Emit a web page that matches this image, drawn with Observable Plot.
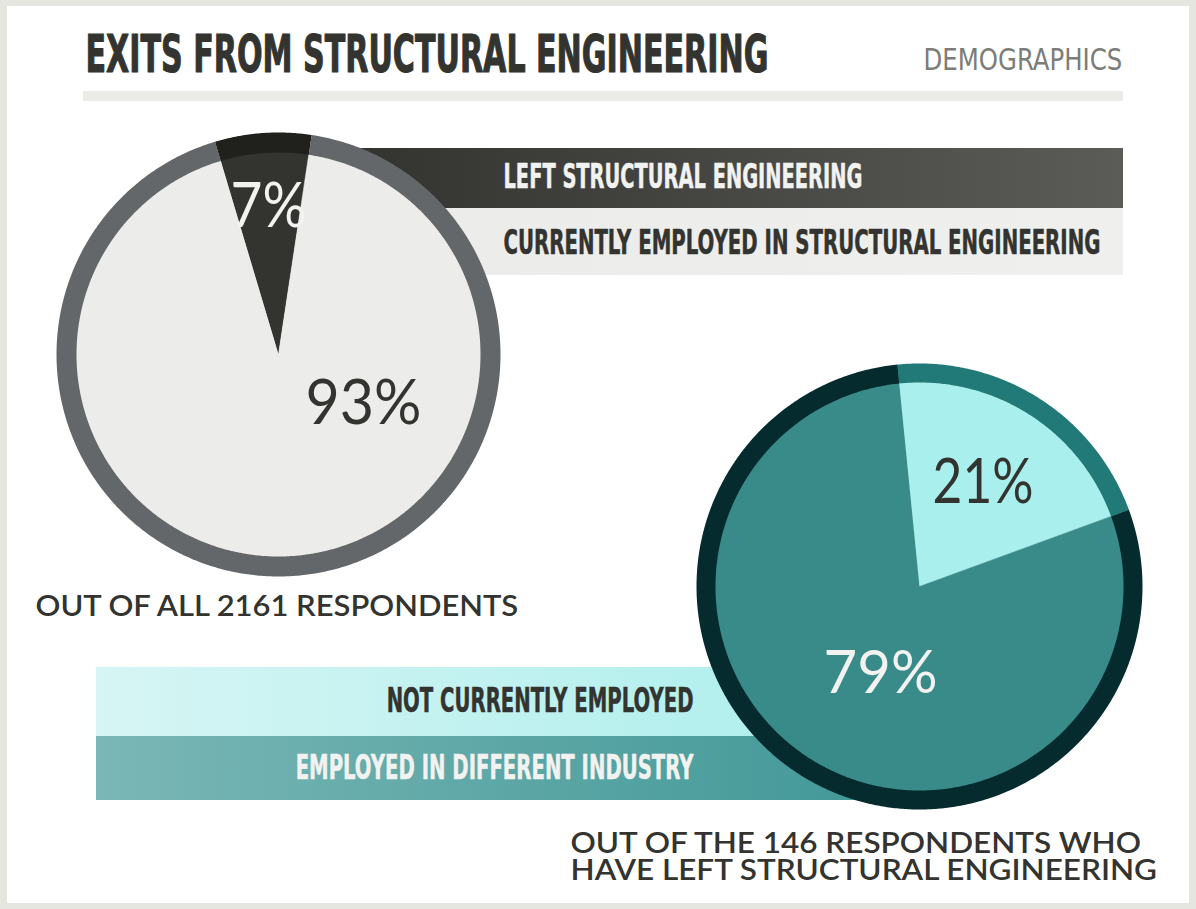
<!DOCTYPE html>
<html><head><meta charset="utf-8">
<script src="https://cdn.jsdelivr.net/npm/d3@7"></script>
<script src="https://cdn.jsdelivr.net/npm/@observablehq/plot@0.6"></script>
<style>
html,body{margin:0;padding:0;background:#fff}
#wrap{position:relative;width:1196px;height:909px;background:#e6e6e1;overflow:hidden}
#inner{position:absolute;left:7px;top:6px;width:1182px;height:897px;background:#fff}
#chart{position:absolute;left:0;top:0}
</style></head><body>
<div id="wrap"><div id="inner"></div><div id="chart"></div></div>
<script>
// ---------------- data ----------------
const titleText = "EXITS FROM STRUCTURAL ENGINEERING";
const sectionText = "DEMOGRAPHICS";
const allCategories = ["LEFT STRUCTURAL ENGINEERING", "CURRENTLY EMPLOYED IN STRUCTURAL ENGINEERING"];
const allValues = [7, 93];
const allRespondents = 2161;
const leftCategories = ["NOT CURRENTLY EMPLOYED", "EMPLOYED IN DIFFERENT INDUSTRY"];
const leftValues = [21, 79];
const leftRespondents = 146;

// ---------------- styling / layout ----------------
const W = 1196, H = 909;
const dark = "#33332f", light = "#f2f2f0";
const condensed = "'Liberation Sans Narrow', 'DejaVu Sans Condensed', Roboto, sans-serif";
const geo = "Lato, 'Open Sans', sans-serif";
const pie1 = {cx: 278, cy: 354, r: 222, ring: 20, start: -16.6,
  fill: ["#33332f", "#ececea"], ringFill: ["#20201c", "#63676a"]};
const pie2 = {cx: 919, cy: 586, r: 223, ring: 19, start: -5.7,
  fill: ["#a9efed", "#388b89"], ringFill: ["#227a78", "#062b2f"]};

const rad = Math.PI / 180;
function wedge(p, a0, a1, r) {
  const n = Math.max(2, Math.ceil((a1 - a0) / rad * 2));
  const pts = [{x: p.cx, y: p.cy}];
  for (let i = 0; i <= n; i++) {
    const a = a0 + (a1 - a0) * i / n;
    pts.push({x: p.cx + r * Math.sin(a), y: p.cy - r * Math.cos(a)});
  }
  return pts;
}
function annulus(p, a0, a1) {
  const n = Math.max(2, Math.ceil((a1 - a0) / rad * 2));
  const pts = [];
  for (let i = 0; i <= n; i++) {
    const a = a0 + (a1 - a0) * i / n;
    pts.push({x: p.cx + p.r * Math.sin(a), y: p.cy - p.r * Math.cos(a)});
  }
  for (let i = n; i >= 0; i--) {
    const a = a0 + (a1 - a0) * i / n;
    const r = p.r - p.ring;
    pts.push({x: p.cx + r * Math.sin(a), y: p.cy - r * Math.cos(a)});
  }
  return pts;
}
function pieMarks(values, p) {
  const arcs = d3.pie().sort(null).startAngle(p.start * rad).endAngle(p.start * rad + 2 * Math.PI)(values);
  const marks = [];
  arcs.forEach((a, i) => {
    marks.push(Plot.line(wedge(p, a.startAngle, a.endAngle, p.r - 1), {x: "x", y: "y", fill: p.fill[i], stroke: p.fill[i], strokeWidth: 0.5}));
  });
  arcs.forEach((a, i) => {
    marks.push(Plot.line(annulus(p, a.startAngle, a.endAngle), {x: "x", y: "y", fill: p.ringFill[i], stroke: "none"}));
  });
  return marks;
}

function label(str, x, y, opts) {
  return Plot.text([str], {x: [x], y: [y], text: d => d, lineAnchor: "bottom", ...opts});
}
const condBold = {fontFamily: condensed, fontWeight: "bold"};

const topBanners = allCategories.map((c, i) => ({c, i}));
const bottomBanners = leftCategories.map((c, i) => ({c, i}));
const caption2 = `OUT OF THE ${leftRespondents} RESPONDENTS WHO\nHAVE LEFT STRUCTURAL ENGINEERING`;

const chart = Plot.plot({
  width: W, height: H, margin: 0,
  style: {background: "transparent"},
  x: {domain: [0, W], range: [0, W], axis: null},
  y: {domain: [0, H], range: [0, H], axis: null},
  marks: [
    // title rule
    Plot.rect([sectionText], {x1: [83], x2: [1123], y1: [91], y2: [101], fill: "#ebebe8"}),
    // legend banners (top)
    Plot.rect(topBanners, {x1: pie1.cx, x2: 1123, y1: d => [148, 208][d.i], y2: d => [208, 275][d.i],
      fill: d => d.i}),
    // legend banners (bottom)
    Plot.rect(bottomBanners, {x1: 96, x2: pie2.cx, y1: d => [667, 736][d.i], y2: d => [736, 800][d.i],
      fill: d => d.i + 2}),
    ...pieMarks(allValues, pie1),
    ...pieMarks(leftValues, pie2),
    // texts
    label(titleText, 85, 71.7, {...condBold, fontSize: 52, fill: dark, stroke: dark, strokeWidth: 1.1, textAnchor: "start"}),
    label(sectionText, 923, 69.3, {fontFamily: condensed, fontWeight: "normal", fontSize: 31, fill: "#7c7c78", textAnchor: "start"}),
    label(allCategories[0], 503, 187.3, {...condBold, fontSize: 33, fill: light, stroke: light, strokeWidth: 0.5, textAnchor: "start"}),
    label(allCategories[1], 503, 253.3, {...condBold, fontSize: 33, fill: dark, stroke: dark, strokeWidth: 0.5, textAnchor: "start"}),
    label(leftCategories[0], 693, 711.7, {...condBold, fontSize: 33, fill: dark, stroke: dark, strokeWidth: 0.5, textAnchor: "end"}),
    label(leftCategories[1], 693, 778.3, {...condBold, fontSize: 33, fill: light, stroke: light, strokeWidth: 0.5, textAnchor: "end"}),
    label(`${allValues[0]}%`, 268, 226, {fontFamily: geo, fontWeight: 400, fontSize: 61, fill: light, textAnchor: "middle"}),
    label(`${allValues[1]}%`, 363, 423, {fontFamily: geo, fontWeight: 400, fontSize: 61, fill: dark, textAnchor: "middle"}),
    label(`${leftValues[0]}%`, 982.5, 502, {fontFamily: geo, fontWeight: 400, fontSize: 61, fill: dark, textAnchor: "middle"}),
    label(`${leftValues[1]}%`, 880, 692, {fontFamily: geo, fontWeight: 400, fontSize: 61, fill: light, textAnchor: "middle"}),
    label(`OUT OF ALL ${allRespondents} RESPONDENTS`, 35, 615, {fontFamily: geo, fontWeight: 600, fontSize: 29, fill: dark, textAnchor: "start"}),
    label(caption2, 570, 879, {fontFamily: geo, fontWeight: 600, fontSize: 28, lineHeight: 0.94, fill: dark, textAnchor: "start"})
  ],
  color: {type: "ordinal", domain: [0, 1, 2, 3], range: ["url(#gTopDark)", "url(#gTopLight)", "url(#gBotLight)", "url(#gBotTeal)"]}
});

// gradients
const svg = d3.select(chart);
const defs = svg.insert("defs", ":first-child");
function grad(id, c0, c1) {
  const g = defs.append("linearGradient").attr("id", id).attr("x1", 0).attr("x2", 1).attr("y1", 0).attr("y2", 0);
  g.append("stop").attr("offset", 0).attr("stop-color", c0);
  g.append("stop").attr("offset", 1).attr("stop-color", c1);
}
grad("gTopDark", "#2f2f2b", "#5b5b58");
grad("gTopLight", "#ebebe9", "#efefed");
grad("gBotLight", "#d6f5f4", "#a9eeec");
grad("gBotTeal", "#7ab7b6", "#3f9796");

document.getElementById("chart").appendChild(chart);

// fit text widths to the reference layout with a horizontal scale
const widths = {};
widths[titleText] = 683;
widths[sectionText] = 199;
widths[allCategories[0]] = 359;
widths[allCategories[1]] = 597;
widths[leftCategories[0]] = 307;
widths[leftCategories[1]] = 398;
widths[`${allValues[0]}%`] = 76;
widths[`${allValues[1]}%`] = 116;
widths[`${leftValues[0]}%`] = 101;
widths[`${leftValues[1]}%`] = 114;
widths[`OUT OF ALL ${allRespondents} RESPONDENTS`] = 483;
widths[caption2.replace("\n", "")] = 587;
svg.selectAll("text").each(function () {
  const content = this.textContent;
  const w = widths[content];
  if (!w) return;
  let nat;
  const tspans = this.querySelectorAll("tspan");
  if (tspans.length) nat = Math.max(...Array.from(tspans, t => t.getComputedTextLength()));
  else nat = this.getComputedTextLength();
  if (!nat) return;
  const s = w / nat;
  let tr = this.getAttribute("transform");
  if (!tr) {
    const x = +this.getAttribute("x") || 0, y = +this.getAttribute("y") || 0;
    tr = `translate(${x},${y})`;
    this.removeAttribute("x");
    if (this.getAttribute("y") && !String(this.getAttribute("y")).endsWith("em")) this.removeAttribute("y");
  }
  this.setAttribute("transform", `${tr} scale(${s},1)`);
});
</script>
</body></html>
